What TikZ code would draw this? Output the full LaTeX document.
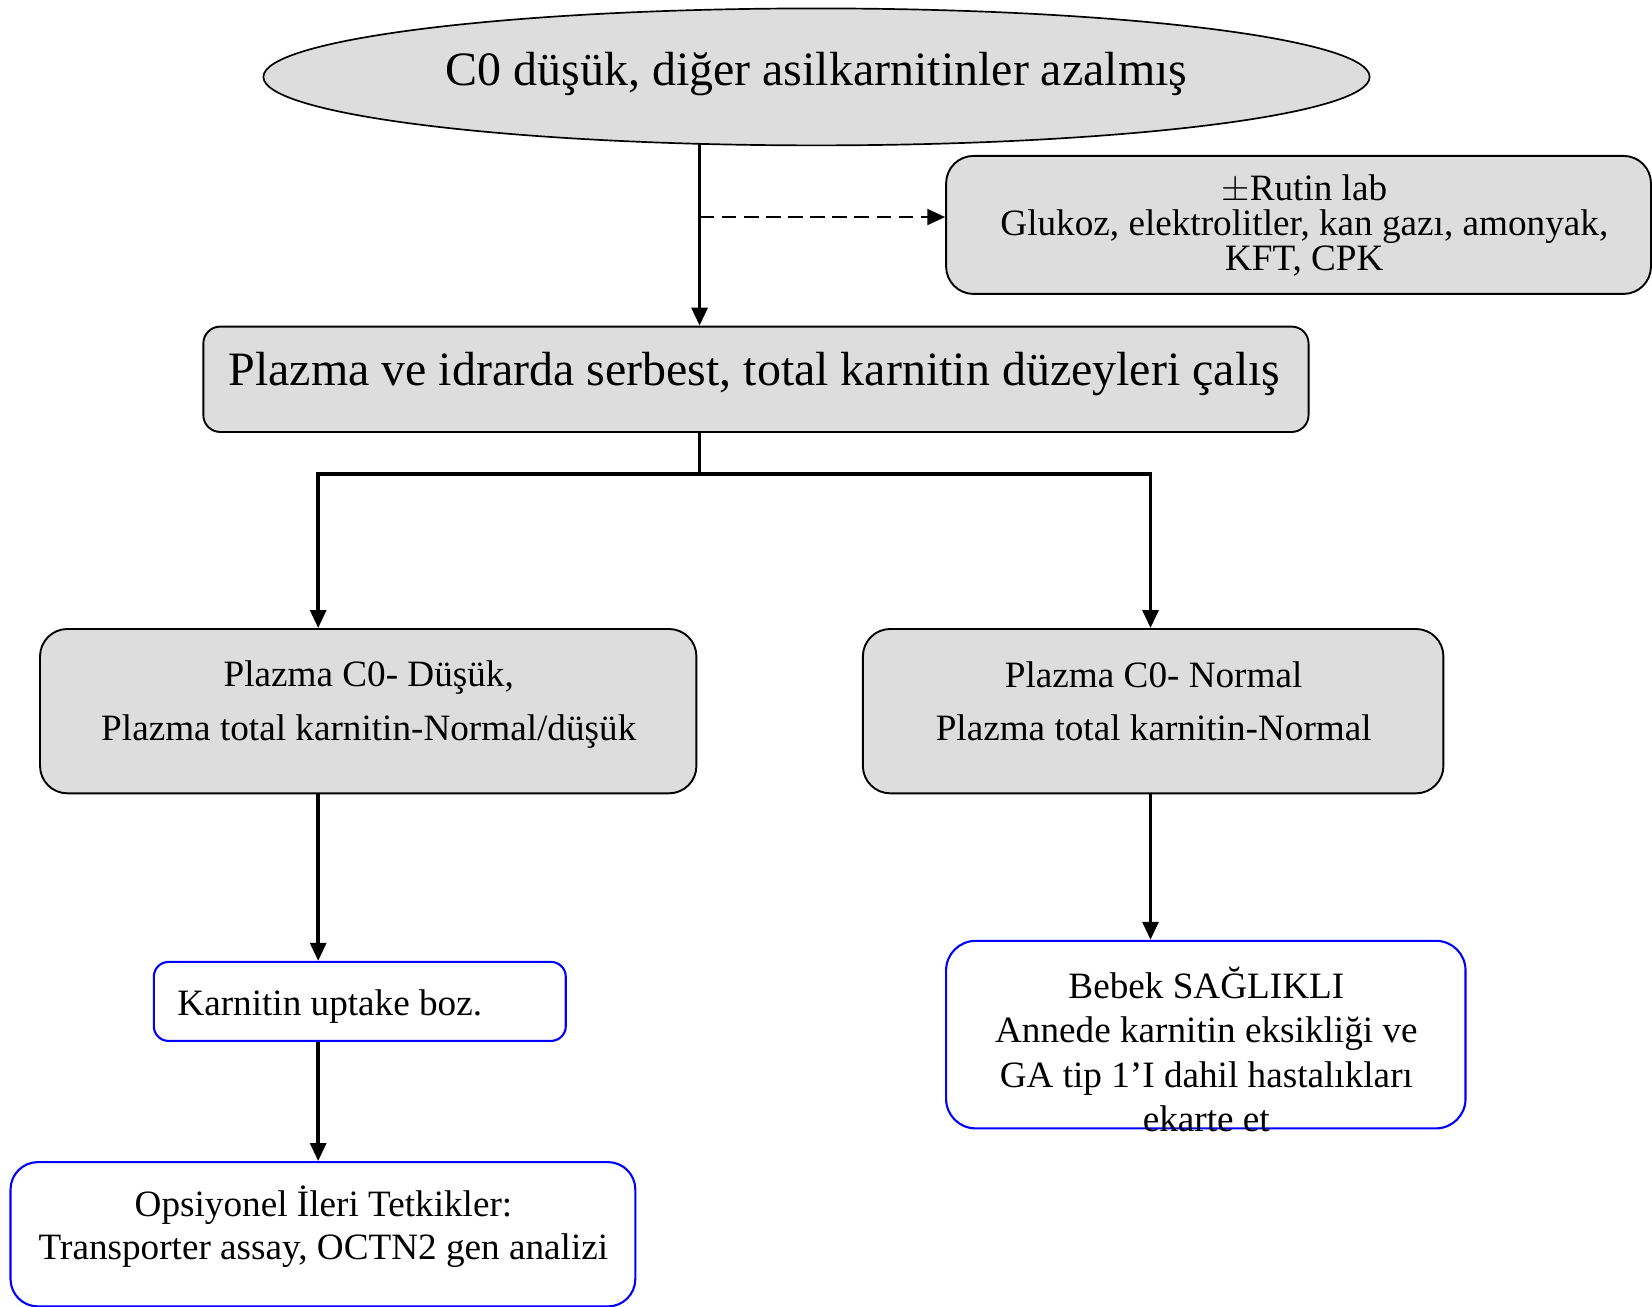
\documentclass[tikz,border=0pt]{standalone}
\usepackage{fontspec}
\setmainfont{Liberation Serif}
\usetikzlibrary{arrows.meta,backgrounds,shapes.geometric}
\definecolor{boxgray}{RGB}{221,221,221}
\definecolor{linkblue}{RGB}{0,0,255}
\begin{document}
\begin{tikzpicture}[x=0.5pt,y=-0.5pt,
  graybox/.style={draw=black,line width=0.9pt,fill=boxgray,inner sep=0pt},
  bluebox/.style={draw=linkblue,line width=1pt,fill=white,inner sep=0pt},
  txt/.style={inner sep=0pt,align=center,font=\fontsize{17.65}{25.5}\selectfont},
  arr/.style={line width=1.6pt,-{Triangle[length=8.5pt,width=7.5pt]}},
  dasharr/.style={line width=1.3pt,dash pattern=on 7pt off 3.5pt,-{Triangle[length=8.5pt,width=7.5pt]}},
]
\useasboundingbox (0,0) rectangle (1568,1240);

% shapes
\node[graybox,ellipse,line width=0.8pt,minimum width=525pt,minimum height=65pt] (ell) at (775,73) {};
\node[graybox,rounded corners=13pt,minimum width=334.5pt,minimum height=65.5pt] (rut) at (1232.5,213.5) {};
\node[graybox,rounded corners=8pt,minimum width=524.5pt,minimum height=50pt] (plz) at (717.5,360) {};
\node[graybox,rounded corners=13pt,minimum width=311.5pt,minimum height=78pt] (lb) at (349.5,675) {};
\node[graybox,rounded corners=13pt,minimum width=275.5pt,minimum height=78pt] (rb) at (1094.5,675) {};
\node[bluebox,rounded corners=7pt,minimum width=195.5pt,minimum height=37.5pt] (kar) at (341.5,950.5) {};
\node[bluebox,rounded corners=13pt,minimum width=296.5pt,minimum height=68.5pt] (ops) at (306.5,1171.5) {};
\node[bluebox,rounded corners=14pt,minimum width=246.5pt,minimum height=89pt] (beb) at (1144.5,982) {};

% texts
\node[txt,font=\fontsize{22.75}{28}\selectfont] (tell) at (775,70) {C0 düşük, diğer asilkarnitinler azalmış};
\node[txt,font=\fontsize{17.65}{16.75}\selectfont] (trut) at (1238,214) {$\pm$Rutin lab\\Glukoz, elektrolitler, kan gazı, amonyak,\\KFT, CPK};
\node[txt,font=\fontsize{22.75}{28}\selectfont] (tplz) at (716,355) {Plazma ve idrarda serbest, total karnitin düzeyleri çalış};
\node[txt] (tlb) at (350,668.5) {Plazma C0- Düşük,\\Plazma total karnitin-Normal/düşük};
\node[txt] (trb) at (1095,665.5) {Plazma C0- Normal\\Plazma total karnitin-Normal};
\node[txt,anchor=west] (tkar) at (168,955) {Karnitin uptake boz.};
\node[txt,font=\fontsize{17.65}{20.5}\selectfont] (tops) at (307,1164.5) {Opsiyonel İleri Tetkikler:\\Transporter assay, OCTN2 gen analizi};
\node[txt,font=\fontsize{17.65}{21}\selectfont] (tbeb) at (1145,996) {Bebek SAĞLIKLI\\Annede karnitin eksikliği ve\\GA tip 1’I dahil hastalıkları\\ekarte et};

% junction coordinates
\coordinate (xm) at (664,206);
\coordinate (jm) at (664,450);
\coordinate (xl) at (302,450);
\coordinate (xr) at (1092,450);

\begin{scope}[on background layer]
\draw[arr] (ell.center -| xm) -- (plz.north -| xm);
\draw[dasharr] (xm) -- (xm -| rut.west);
\draw[line width=1.6pt] (plz.center -| jm) -- (jm);
\draw[arr] (jm) -| (lb.north -| xl);
\draw[arr] (jm) -| (rb.north -| xr);
\draw[arr] (lb.south -| xl) -- (kar.north -| xl);
\draw[arr] (kar.south -| xl) -- (ops.north -| xl);
\draw[arr] (rb.south -| xr) -- (beb.north -| xr);
\end{scope}
\end{tikzpicture}
\end{document}
